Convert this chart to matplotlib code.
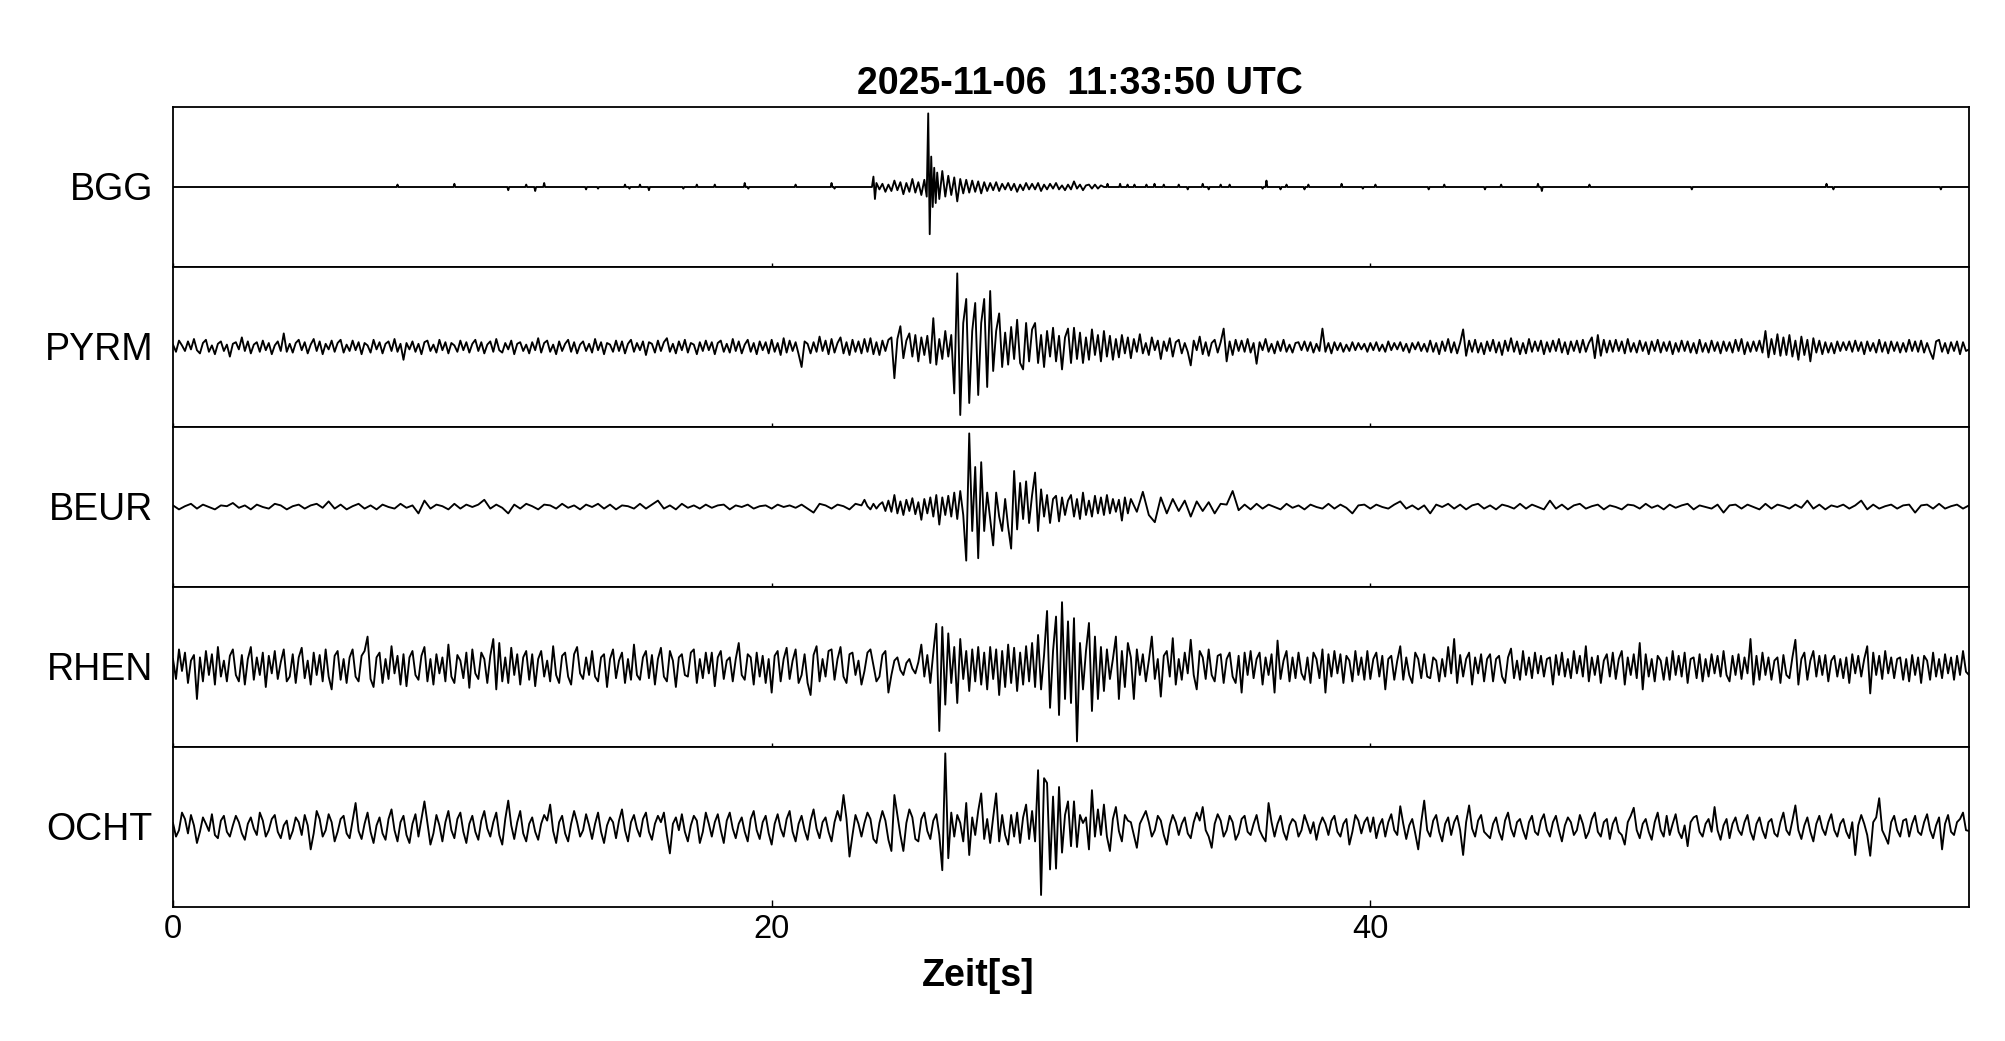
import numpy as np
import matplotlib
matplotlib.use("Agg")
import matplotlib.pyplot as plt

plt.rcParams['font.family'] = ['Liberation Sans', 'DejaVu Sans']

title = "2025-11-06  11:33:50 UTC"
xlabel = "Zeit[s]"
stations = ["BGG", "PYRM", "BEUR", "RHEN", "OCHT"]
xticks = [0, 20, 40]
t_max = 60.0

# ---- BGG: isolated small spikes + event waveform (amplitudes in panel half-heights)
bgg_spike_t = [7.5, 9.4, 11.2, 11.8, 12.1, 12.4, 13.8, 14.2, 15.1, 15.25,
               15.6, 15.9, 17.05, 17.5, 18.1, 19.1, 19.22, 20.8, 22.0, 22.1,
               31.22, 31.64, 31.89, 32.12, 32.52, 32.79, 33.1, 33.6, 33.9, 34.4,
               34.6, 35.0, 35.3, 36.4, 36.53, 37.0, 37.2, 37.8, 37.93, 39.04,
               39.75, 40.17, 41.95, 42.47, 43.83, 44.37, 45.6, 45.73, 47.32, 50.74,
               55.24, 55.47, 59.06]
bgg_spike_v = [0.03, 0.04, -0.04, 0.03, -0.05, 0.05, -0.03, -0.02, 0.03, -0.02,
               0.03, -0.04, -0.02, 0.03, 0.03, 0.05, -0.02, 0.03, 0.05, -0.02,
               0.04, 0.04, 0.03, 0.03, 0.03, 0.04, 0.03, 0.03, -0.03, 0.04,
               -0.03, 0.03, 0.03, -0.02, 0.08, -0.03, 0.03, -0.03, 0.03, 0.04,
               -0.02, 0.03, -0.03, 0.03, -0.03, 0.03, 0.04, -0.05, 0.03, -0.03,
               0.04, -0.03, -0.03]
bgg_ev_t = [23.35, 23.40, 23.45, 23.50, 23.60, 23.70, 23.80, 23.90, 24.00, 24.10,
            24.20, 24.30, 24.40, 24.50, 24.60, 24.70, 24.80, 24.90, 25.00, 25.10,
            25.18, 25.23, 25.28, 25.33, 25.38, 25.43, 25.48, 25.53, 25.60, 25.70,
            25.80, 25.90, 26.00, 26.10, 26.20, 26.30, 26.40, 26.50, 26.60, 26.70,
            26.80, 26.90, 27.00, 27.10, 27.20, 27.30, 27.40, 27.50, 27.60, 27.70,
            27.80, 27.90, 28.00, 28.10, 28.20, 28.30, 28.40, 28.50, 28.60, 28.70,
            28.80, 28.90, 29.00, 29.10, 29.20, 29.30, 29.40, 29.50, 29.60, 29.70,
            29.80, 29.90, 30.00, 30.10, 30.20, 30.30, 30.40, 30.50, 30.60, 30.70,
            30.80, 30.90, 31.00, 31.10]
bgg_ev_v = [0.00, 0.13, -0.15, 0.05, -0.03, 0.04, -0.06, 0.03, -0.05, 0.08,
            -0.04, 0.06, -0.09, 0.05, -0.06, 0.10, -0.07, 0.06, -0.10, 0.09,
            -0.12, 0.92, -0.59, 0.38, -0.25, 0.24, -0.20, 0.18, -0.15, 0.20,
            -0.12, 0.14, -0.10, 0.12, -0.18, 0.10, -0.08, 0.09, -0.07, 0.08,
            -0.06, 0.07, -0.08, 0.06, -0.05, 0.05, -0.04, 0.06, -0.05, 0.04,
            -0.03, 0.05, -0.04, 0.04, -0.06, 0.03, -0.04, 0.05, -0.03, 0.04,
            -0.03, 0.05, -0.05, 0.03, -0.03, 0.04, -0.02, 0.05, -0.03, 0.02,
            -0.04, 0.03, -0.03, 0.07, -0.02, 0.03, -0.04, 0.02, 0.03, -0.02,
            0.03, -0.02, 0.02, 0.00]

# ---- PYRM, RHEN, OCHT: one sample every 0.1 s, 0 .. 60 s (one row = 2 s)
pyrm = [
    0.03, -0.06, 0.08, 0.02, -0.05, 0.07, -0.03, 0.10, -0.04, -0.08, 0.05, 0.09, -0.06, 0.02, -0.09, 0.04, 0.07, -0.05, 0.03, -0.12,
    0.04, 0.06, -0.03, 0.12, -0.05, 0.07, -0.08, 0.03, 0.06, -0.06, 0.08, -0.04, 0.05, -0.09, 0.02, 0.07, -0.05, 0.17, -0.06, 0.04,
    -0.07, 0.05, 0.09, -0.04, 0.06, -0.08, 0.03, 0.10, -0.05, 0.07, -0.09, 0.04, -0.03, 0.08, -0.06, 0.05, 0.09, -0.07, 0.03, -0.05,
    0.08, -0.04, 0.06, -0.09, 0.05, 0.02, -0.07, 0.09, -0.03, 0.06, -0.08, 0.04, 0.07, -0.05, 0.10, -0.06, 0.04, -0.16, 0.05, -0.03,
    0.07, -0.06, 0.04, -0.09, 0.06, 0.08, -0.05, 0.03, -0.07, 0.09, -0.04, 0.06, -0.08, 0.05, 0.02, -0.06, 0.08, -0.04, 0.06, -0.07,
    0.04, 0.09, -0.05, 0.06, -0.08, 0.03, 0.07, -0.06, 0.10, -0.04, -0.07, 0.05, -0.03, 0.08, -0.09, 0.04, 0.06, -0.05, 0.03, -0.08,
    0.06, -0.04, 0.11, -0.07, 0.05, 0.08, -0.06, 0.03, -0.09, 0.07, -0.05, 0.04, 0.09, -0.06, 0.06, -0.08, 0.03, 0.07, -0.05, 0.04,
    -0.07, 0.10, -0.04, 0.06, -0.09, 0.05, 0.03, -0.06, 0.08, -0.05, 0.07, -0.08, 0.04, 0.09, -0.06, 0.05, -0.04, 0.07, -0.10, 0.06,
    0.04, -0.07, 0.08, -0.05, 0.06, 0.11, -0.06, 0.04, -0.08, 0.07, -0.04, 0.09, -0.07, 0.05, 0.03, -0.09, 0.06, -0.05, 0.08, -0.04,
    0.06, -0.09, 0.05, 0.08, -0.06, 0.04, -0.07, 0.10, -0.05, 0.07, -0.08, 0.03, 0.09, -0.06, 0.05, -0.09, 0.07, -0.04, 0.06, -0.08,
    0.09, -0.06, 0.05, -0.10, 0.11, -0.07, 0.08, -0.05, 0.06, -0.09, -0.25, 0.07, 0.04, -0.08, 0.06, -0.06, 0.13, -0.05, 0.08, -0.09,
    0.10, -0.07, 0.05, 0.12, -0.08, 0.06, -0.10, 0.09, -0.06, 0.07, -0.08, 0.10, -0.06, 0.11, -0.09, 0.06, -0.10, 0.08, -0.05, 0.09,
    0.12, -0.39, 0.10, 0.26, -0.14, 0.08, 0.17, -0.12, 0.15, -0.18, 0.12, -0.10, 0.14, -0.20, 0.36, -0.22, 0.10, -0.15, 0.20, -0.12,
    0.15, -0.58, 0.92, -0.85, 0.30, 0.60, -0.70, 0.20, 0.55, -0.60, 0.30, 0.60, -0.50, 0.70, -0.30, 0.20, 0.42, -0.25, 0.18, -0.22,
    0.25, -0.15, 0.34, -0.20, -0.28, 0.30, -0.18, 0.22, 0.30, -0.20, 0.15, -0.25, 0.20, -0.12, 0.24, -0.18, 0.14, -0.28, 0.12, 0.23,
    -0.20, 0.24, -0.15, 0.18, -0.20, 0.12, -0.16, 0.22, -0.10, 0.15, -0.18, 0.20, -0.12, 0.14, -0.16, 0.10, -0.13, 0.15, -0.08, 0.12,
    -0.14, 0.10, -0.06, 0.16, -0.08, 0.05, -0.10, 0.12, -0.04, 0.08, -0.15, 0.07, -0.05, 0.11, -0.12, 0.06, 0.09, -0.08, 0.05, -0.06,
    -0.23, 0.08, -0.04, 0.13, -0.09, 0.06, -0.11, 0.05, 0.09, -0.07, 0.06, 0.23, -0.18, 0.07, -0.10, 0.09, -0.05, 0.08, -0.06, 0.10,
    -0.07, 0.05, -0.21, 0.06, -0.04, 0.10, -0.06, 0.04, -0.08, 0.07, -0.05, 0.09, -0.06, 0.03, -0.07, 0.05, 0.06, -0.04, 0.07, -0.05,
    0.06, -0.07, 0.04, -0.05, 0.23, -0.06, 0.05, -0.08, 0.06, -0.04, 0.05, -0.06, 0.03, -0.05, 0.06, -0.04, 0.05, -0.03, 0.04, -0.06,
    0.05, -0.04, 0.06, -0.05, 0.03, -0.06, 0.07, -0.04, 0.05, -0.03, 0.06, -0.05, 0.04, -0.07, 0.05, -0.03, 0.06, -0.05, 0.04, -0.06,
    0.08, -0.06, 0.05, -0.09, 0.07, -0.05, 0.10, -0.07, 0.06, -0.08, 0.05, 0.22, -0.11, 0.08, -0.06, 0.09, -0.07, 0.05, -0.09, 0.07,
    -0.05, 0.09, -0.07, 0.06, -0.10, 0.08, -0.05, 0.11, -0.06, 0.07, -0.09, 0.05, -0.08, 0.10, -0.06, 0.07, -0.05, 0.08, -0.09, 0.06,
    -0.06, 0.08, -0.05, 0.10, -0.07, 0.06, -0.09, 0.07, -0.05, 0.08, -0.07, 0.09, -0.06, 0.05, 0.12, -0.14, 0.15, -0.11, 0.09, -0.07,
    0.08, -0.06, 0.09, -0.05, 0.07, -0.08, 0.10, -0.06, 0.05, -0.07, 0.08, -0.05, 0.06, -0.09, 0.07, -0.05, 0.09, -0.07, 0.06, -0.05,
    0.07, -0.09, 0.05, -0.06, 0.08, -0.05, 0.07, -0.07, 0.05, -0.08, 0.09, -0.06, 0.05, -0.07, 0.08, -0.05, 0.06, -0.08, 0.07, -0.05,
    0.06, -0.07, 0.09, -0.05, 0.10, -0.09, 0.06, -0.06, 0.07, -0.05, 0.08, -0.07, 0.20, -0.13, 0.10, -0.09, 0.16, -0.11, 0.12, -0.10,
    0.15, -0.12, 0.08, -0.16, 0.13, -0.10, 0.09, -0.18, 0.11, -0.07, 0.08, -0.09, 0.06, -0.07, 0.05, -0.08, 0.07, -0.05, 0.06, -0.04,
    0.07, -0.06, 0.08, -0.05, 0.06, -0.09, 0.07, -0.05, 0.05, -0.07, 0.09, -0.06, 0.06, -0.08, 0.07, -0.05, 0.06, -0.07, 0.05, -0.06,
    0.09, -0.05, 0.07, -0.06, 0.08, -0.07, 0.05, -0.06, -0.15, 0.07, 0.09, -0.06, 0.05, -0.08, 0.06, -0.05, 0.07, -0.09, 0.06, -0.05,
    -0.03]

rhen = [
    0.10, -0.15, 0.22, -0.05, 0.18, -0.20, 0.08, 0.15, -0.40, 0.12, -0.18, 0.20, -0.10, 0.16, -0.22, 0.25, -0.12, 0.08, -0.18, 0.14,
    0.22, -0.10, -0.18, 0.15, -0.22, 0.10, 0.25, -0.16, 0.12, -0.10, 0.18, -0.25, 0.14, -0.08, 0.20, -0.15, 0.06, 0.22, -0.18, -0.12,
    0.16, -0.20, 0.12, 0.24, -0.14, 0.08, -0.22, 0.18, -0.10, 0.15, -0.18, 0.22, -0.12, -0.28, 0.14, 0.20, -0.16, 0.10, -0.20, 0.12,
    0.22, -0.12, -0.18, 0.14, 0.20, 0.38, -0.15, -0.25, 0.12, 0.18, -0.20, 0.10, -0.15, 0.26, -0.08, 0.14, -0.22, 0.16, -0.24, 0.12,
    0.20, -0.10, -0.16, 0.14, 0.25, -0.18, 0.10, -0.22, 0.16, -0.08, 0.12, -0.18, 0.28, -0.12, -0.20, 0.15, 0.08, -0.14, 0.18, -0.26,
    0.22, -0.08, -0.15, 0.18, 0.10, -0.20, 0.14, 0.35, -0.28, 0.30, -0.18, 0.12, -0.20, 0.24, -0.10, 0.16, -0.22, 0.12, 0.20, -0.16,
    0.16, -0.24, 0.10, 0.20, -0.12, 0.08, -0.18, 0.26, -0.10, -0.20, 0.14, 0.18, -0.12, -0.22, 0.16, 0.25, -0.08, -0.15, 0.12, -0.10,
    0.20, -0.12, -0.18, 0.12, 0.16, -0.25, 0.10, 0.22, -0.14, 0.08, 0.18, -0.20, 0.10, -0.16, 0.28, -0.10, -0.16, 0.12, 0.20, -0.14,
    0.15, -0.22, 0.10, 0.24, -0.12, -0.18, 0.20, 0.08, -0.25, 0.12, 0.16, -0.10, -0.12, 0.18, 0.22, -0.20, 0.10, -0.14, 0.18, -0.08,
    0.18, -0.24, 0.12, 0.20, -0.15, 0.08, 0.12, -0.18, 0.10, 0.30, -0.10, -0.16, 0.16, 0.12, -0.22, 0.18, -0.12, 0.14, -0.20, 0.10,
    -0.32, 0.14, 0.20, -0.18, 0.10, 0.24, -0.15, 0.08, 0.22, -0.20, -0.10, 0.16, -0.20, -0.35, 0.15, 0.26, -0.18, 0.10, -0.12, 0.20,
    0.22, -0.16, 0.10, 0.25, -0.12, -0.20, 0.16, 0.18, -0.10, 0.08, -0.22, -0.05, 0.18, 0.22, 0.02, -0.18, -0.12, 0.15, 0.20, -0.32,
    -0.10, 0.08, 0.12, -0.04, -0.10, 0.05, 0.10, -0.02, -0.08, 0.06, 0.28, -0.12, 0.15, -0.20, 0.18, 0.54, -0.80, 0.50, -0.47, 0.42,
    -0.20, 0.25, -0.45, 0.35, -0.15, 0.20, -0.30, 0.22, -0.18, 0.25, -0.22, 0.18, -0.28, 0.25, -0.15, 0.22, -0.35, 0.20, -0.25, 0.28,
    -0.20, 0.24, -0.30, 0.18, -0.22, 0.26, -0.18, 0.30, -0.25, 0.40, -0.28, 0.15, 0.70, -0.51, 0.20, 0.63, -0.60, 0.81, -0.40, 0.57,
    -0.45, 0.61, -0.93, 0.30, -0.28, 0.20, 0.55, -0.55, 0.38, -0.40, 0.25, -0.30, 0.22, -0.15, 0.10, 0.38, -0.40, 0.20, -0.25, 0.30,
    0.12, -0.40, 0.22, -0.10, 0.16, -0.18, 0.08, 0.38, -0.15, 0.10, -0.37, 0.14, 0.20, -0.12, 0.36, -0.22, 0.10, -0.16, 0.18, -0.08,
    0.34, -0.10, -0.28, 0.20, 0.12, -0.15, 0.22, -0.10, -0.18, 0.14, 0.16, -0.20, 0.10, 0.18, -0.12, -0.20, 0.14, -0.32, 0.18, -0.10,
    0.20, -0.14, 0.10, 0.18, -0.22, 0.12, -0.10, 0.16, -0.32, 0.33, -0.15, 0.08, 0.20, -0.18, 0.12, -0.14, 0.18, -0.08, -0.16, 0.12,
    -0.20, 0.18, 0.10, -0.14, 0.22, -0.32, 0.16, -0.12, 0.20, -0.08, 0.16, -0.20, 0.14, 0.08, -0.18, 0.20, -0.10, 0.12, -0.16, 0.20,
    -0.15, 0.10, 0.18, -0.12, 0.14, -0.28, 0.10, 0.14, -0.16, 0.08, 0.26, -0.16, 0.12, -0.10, -0.20, 0.18, 0.10, -0.14, 0.16, -0.12,
    -0.14, 0.12, 0.08, -0.18, 0.10, -0.12, 0.25, -0.08, 0.35, -0.20, 0.15, -0.12, 0.10, 0.18, -0.22, 0.12, -0.08, 0.16, -0.18, 0.10,
    0.16, -0.18, 0.10, 0.14, -0.12, -0.20, 0.12, 0.23, -0.14, 0.08, -0.16, 0.20, -0.10, 0.12, -0.14, 0.18, -0.08, 0.14, -0.12, 0.10,
    0.12, -0.22, 0.15, -0.10, 0.18, -0.12, 0.10, -0.14, 0.20, -0.08, 0.14, -0.12, 0.26, -0.18, 0.12, -0.10, 0.14, -0.20, 0.08, 0.16,
    -0.12, 0.18, -0.15, 0.10, 0.20, -0.22, 0.12, -0.10, 0.16, -0.14, 0.30, -0.28, 0.16, -0.12, 0.10, -0.18, 0.14, 0.08, -0.16, 0.12,
    -0.16, 0.20, -0.10, 0.14, -0.12, 0.18, -0.20, 0.10, 0.12, -0.14, 0.16, -0.18, 0.10, -0.12, 0.16, -0.08, 0.14, -0.12, 0.20, -0.10,
    -0.18, 0.14, -0.10, 0.16, -0.15, 0.12, -0.08, 0.35, -0.22, 0.14, -0.16, 0.18, -0.10, 0.12, -0.16, 0.08, 0.12, -0.20, 0.15, -0.10,
    -0.14, 0.12, 0.34, -0.22, 0.10, 0.18, -0.16, 0.08, 0.20, -0.12, 0.14, -0.10, 0.15, -0.18, 0.08, 0.14, -0.12, 0.10, -0.14, 0.12,
    -0.20, 0.16, -0.08, 0.14, -0.12, 0.10, 0.26, -0.33, 0.18, -0.10, 0.14, -0.15, 0.20, -0.08, 0.12, -0.14, 0.10, 0.12, -0.16, 0.10,
    -0.18, 0.15, -0.10, 0.12, -0.20, 0.14, 0.08, -0.16, 0.18, -0.12, 0.10, -0.14, 0.16, -0.08, 0.12, -0.16, 0.14, -0.10, 0.20, -0.06,
    -0.10]

ocht = [
    0.05, -0.12, -0.04, 0.18, 0.10, -0.08, 0.15, 0.02, -0.20, -0.06, 0.12, 0.04, -0.05, 0.16, -0.10, -0.14, 0.08, 0.14, -0.06, -0.12,
    0.02, 0.14, 0.06, -0.08, -0.16, 0.04, 0.12, -0.02, -0.10, 0.18, 0.08, -0.12, -0.04, 0.10, 0.15, -0.06, -0.14, 0.02, 0.08, -0.15,
    -0.05, 0.12, 0.06, -0.10, 0.15, 0.02, -0.28, -0.08, 0.20, 0.10, -0.12, -0.04, 0.16, 0.06, -0.18, -0.06, 0.10, 0.14, -0.08, -0.14,
    0.08, 0.30, -0.05, -0.15, 0.04, 0.18, -0.06, -0.20, 0.02, 0.12, -0.08, -0.16, 0.10, 0.22, -0.04, -0.18, 0.06, 0.14, -0.10, -0.20,
    0.04, 0.16, -0.12, 0.10, 0.32, 0.05, -0.22, -0.08, 0.15, 0.02, -0.18, 0.06, 0.20, -0.04, -0.14, 0.10, 0.18, -0.06, -0.20, 0.04,
    0.14, -0.06, -0.16, 0.08, 0.20, -0.02, -0.12, 0.06, 0.18, -0.10, -0.22, 0.10, 0.33, 0.02, -0.15, 0.06, 0.20, -0.08, -0.18, 0.04,
    0.12, -0.06, -0.16, 0.04, 0.15, 0.08, 0.28, -0.05, -0.20, 0.06, 0.14, -0.08, -0.18, 0.04, 0.20, 0.06, -0.12, -0.04, 0.16, 0.02,
    -0.15, 0.04, 0.18, -0.06, -0.20, 0.02, 0.12, 0.06, -0.14, 0.08, 0.22, -0.04, -0.18, 0.06, 0.15, -0.02, -0.12, 0.10, 0.18, -0.06,
    -0.16, 0.04, 0.14, 0.06, 0.18, -0.10, -0.33, 0.04, 0.12, -0.04, 0.16, -0.06, -0.18, 0.02, 0.14, 0.08, -0.20, -0.06, 0.18, 0.04,
    -0.12, 0.06, 0.16, -0.04, -0.20, 0.08, 0.18, -0.02, -0.14, 0.04, 0.12, -0.06, -0.18, 0.10, 0.20, -0.04, -0.15, 0.06, 0.14, -0.08,
    -0.22, 0.04, 0.16, -0.02, -0.12, 0.10, 0.20, -0.06, -0.18, 0.04, 0.14, -0.04, -0.16, 0.08, 0.22, -0.02, -0.14, 0.06, 0.12, -0.06,
    -0.18, 0.06, 0.20, 0.08, 0.40, 0.10, -0.37, -0.10, 0.15, 0.04, -0.12, 0.05, 0.18, 0.10, -0.15, -0.20, 0.05, 0.20, 0.08, -0.16,
    -0.30, 0.40, 0.15, -0.10, -0.30, 0.05, 0.22, 0.12, -0.15, -0.18, 0.10, 0.18, -0.05, -0.15, 0.08, 0.16, -0.10, -0.54, 0.92, -0.39,
    0.18, -0.12, 0.15, 0.05, -0.18, 0.30, -0.35, 0.12, -0.10, 0.20, 0.42, -0.15, 0.10, -0.20, 0.12, 0.42, -0.18, 0.15, -0.10, -0.22,
    0.15, -0.12, 0.18, -0.20, 0.12, 0.28, -0.15, 0.20, -0.18, 0.71, -0.85, 0.61, 0.55, -0.53, 0.38, -0.52, 0.50, -0.32, 0.15, 0.32,
    -0.24, 0.32, -0.25, 0.15, 0.05, 0.12, -0.28, 0.46, -0.12, 0.22, -0.10, 0.28, -0.12, -0.30, 0.10, 0.25, -0.05, -0.18, 0.15, 0.08,
    0.06, -0.10, -0.26, 0.04, 0.12, 0.20, 0.06, -0.12, -0.04, 0.14, 0.08, -0.10, -0.22, 0.02, 0.15, 0.06, -0.10, 0.04, 0.12, -0.08,
    -0.14, 0.06, 0.18, 0.08, 0.25, -0.04, -0.12, -0.26, 0.04, 0.16, 0.08, -0.12, -0.04, 0.14, 0.06, -0.16, -0.08, 0.10, 0.14, -0.06,
    -0.10, 0.04, 0.15, -0.04, -0.12, -0.18, 0.30, 0.06, -0.12, 0.04, 0.14, -0.06, -0.16, 0.02, 0.10, 0.06, -0.12, -0.04, 0.15, 0.04,
    -0.08, 0.06, -0.16, 0.02, 0.12, 0.04, -0.10, 0.08, 0.14, -0.06, -0.12, 0.04, 0.10, -0.22, -0.06, 0.15, 0.08, -0.08, 0.06, 0.12,
    -0.06, 0.12, -0.14, 0.02, 0.10, -0.12, 0.06, 0.16, -0.04, -0.10, 0.26, 0.04, -0.15, 0.02, 0.10, -0.08, -0.28, 0.06, 0.33, -0.04,
    -0.12, 0.08, 0.15, -0.06, -0.18, 0.04, 0.12, -0.10, 0.06, 0.14, -0.04, -0.35, 0.06, 0.27, -0.02, -0.12, 0.08, 0.15, -0.06, -0.10,
    -0.14, 0.04, 0.12, -0.06, -0.16, 0.08, 0.18, -0.02, -0.12, 0.06, 0.10, -0.04, -0.15, 0.06, 0.14, -0.06, -0.10, 0.08, 0.16, -0.04,
    -0.12, 0.06, 0.14, -0.04, -0.18, 0.02, 0.12, 0.06, -0.10, -0.04, 0.15, 0.04, -0.14, -0.06, 0.10, 0.18, -0.06, -0.12, 0.06, 0.10,
    -0.15, 0.04, 0.12, -0.06, -0.10, -0.22, 0.06, 0.14, 0.24, -0.04, -0.14, 0.04, 0.10, -0.06, -0.16, 0.06, 0.18, -0.04, -0.12, 0.14,
    -0.10, 0.04, 0.16, -0.06, -0.14, 0.02, -0.24, 0.06, 0.12, 0.14, -0.06, -0.12, 0.04, 0.10, -0.06, 0.25, -0.04, -0.16, 0.02, 0.10,
    -0.14, 0.04, 0.12, -0.04, -0.10, 0.06, 0.15, -0.06, -0.16, 0.04, 0.12, -0.04, -0.14, 0.06, 0.10, -0.08, -0.12, 0.06, 0.18, -0.04,
    -0.10, 0.08, 0.27, -0.04, -0.15, 0.02, 0.12, -0.06, -0.18, 0.04, 0.14, -0.02, -0.10, 0.06, 0.16, -0.04, -0.12, 0.04, 0.10, -0.06,
    -0.14, 0.06, -0.35, 0.02, 0.15, 0.04, -0.10, -0.36, 0.06, 0.12, 0.36, -0.04, -0.12, -0.21, 0.06, 0.14, -0.04, -0.12, 0.08, 0.10,
    -0.12, 0.04, 0.14, -0.06, -0.10, 0.06, 0.16, -0.04, -0.14, 0.02, 0.12, -0.28, 0.04, 0.15, -0.06, -0.10, 0.06, 0.10, 0.18, -0.04,
    -0.05]

# ---- BEUR (smooth noise): every 0.2 s (0-22.8 s), 0.1 s (23.0-31.9 s), 0.2 s (32-60 s)
beur_a = [0.02, -0.03, 0.01, 0.04, -0.02, 0.03, 0.00, -0.03, 0.02, 0.01,
          0.05, -0.01, 0.02, -0.03, 0.03, 0.00, -0.02, 0.04, 0.02, -0.03,
          0.01, 0.03, -0.02, 0.02, 0.04, -0.01, 0.07, -0.02, 0.03, -0.03,
          0.01, 0.04, -0.02, 0.02, -0.03, 0.03, 0.00, -0.02, 0.04, -0.01,
          0.02, -0.08, 0.08, -0.02, 0.03, 0.01, -0.03, 0.04, -0.02, 0.03,
          0.00, 0.03, 0.09, -0.02, 0.03, -0.01, -0.08, 0.03, -0.02, 0.04,
          0.01, -0.03, 0.03, 0.02, -0.02, 0.04, -0.01, 0.02, -0.03, 0.03,
          0.00, 0.04, -0.02, 0.03, -0.03, 0.02, 0.01, -0.02, 0.04, -0.02,
          0.03, 0.08, -0.02, 0.02, -0.03, 0.04, -0.01, 0.02, -0.02, 0.03,
          -0.01, 0.02, 0.03, -0.03, 0.02, 0.00, 0.03, -0.02, 0.01, 0.02,
          -0.02, 0.03, 0.00, 0.02, -0.01, 0.03, -0.02, -0.07, 0.04, 0.02,
          -0.02, 0.03, 0.01, -0.03, 0.04]
beur_b = [0.02, 0.09, 0.01, -0.03, 0.04, -0.02, 0.03, 0.06, -0.05, 0.08,
          -0.06, 0.15, -0.08, 0.07, -0.10, 0.09, -0.05, 0.11, -0.09, 0.06,
          -0.16, 0.10, -0.08, 0.12, -0.12, 0.15, -0.22, 0.12, -0.10, 0.14,
          -0.12, 0.18, -0.15, 0.20, -0.10, -0.67, 0.92, -0.30, 0.50, -0.64,
          0.56, -0.30, 0.18, -0.15, -0.48, 0.18, -0.12, -0.30, 0.10, -0.25,
          -0.52, 0.45, -0.28, 0.30, -0.15, 0.32, -0.20, 0.15, 0.43, -0.30,
          0.22, -0.12, 0.15, -0.20, 0.10, 0.14, -0.18, 0.12, -0.10, 0.08,
          0.15, -0.12, 0.10, -0.15, 0.18, -0.10, 0.08, -0.12, 0.14, -0.08,
          0.12, -0.10, 0.15, -0.08, 0.10, -0.06, 0.09, -0.17, 0.12, -0.08]
beur_c = [0.10, -0.06, 0.19, -0.10, -0.19, 0.12, -0.08, 0.10, -0.05, 0.08,
          -0.12, 0.07, -0.05, 0.06, -0.08, 0.04, 0.03, 0.20, -0.04, 0.03,
          -0.03, 0.04, -0.02, 0.03, 0.00, -0.03, 0.04, -0.01, 0.02, -0.03,
          0.03, 0.00, -0.02, 0.04, -0.02, 0.03, -0.01, -0.08, 0.02, 0.03,
          -0.02, 0.03, 0.00, -0.02, 0.03, 0.07, -0.02, 0.02, -0.03, 0.02,
          -0.08, 0.03, 0.00, 0.04, -0.02, 0.03, -0.03, 0.02, 0.04, -0.02,
          0.02, -0.03, 0.03, 0.01, -0.02, 0.04, -0.02, 0.03, 0.00, -0.03,
          0.08, -0.02, 0.03, -0.03, 0.02, 0.04, -0.02, 0.01, 0.03, -0.03,
          0.02, 0.00, -0.03, 0.03, 0.02, -0.02, 0.04, -0.01, 0.02, -0.03,
          0.03, -0.01, 0.02, 0.04, -0.03, 0.02, 0.00, -0.02, 0.03, -0.07,
          0.02, 0.03, -0.02, 0.03, 0.00, -0.03, 0.04, -0.02, 0.03, 0.01,
          -0.02, 0.03, -0.01, 0.08, -0.02, 0.03, -0.03, 0.02, 0.00, 0.03,
          -0.02, 0.02, 0.08, -0.03, 0.03, -0.02, 0.01, 0.03, -0.02, 0.02,
          0.03, -0.07, 0.02, 0.03, -0.02, 0.04, -0.02, 0.01, 0.03, -0.02,
          0.02]


def uniform(v):
    v = np.asarray(v, dtype=float)
    return np.arange(len(v)) * 0.1, v


def three_part(a, b, c):
    ta = np.arange(len(a)) * 0.2
    tb = 23.0 + np.arange(len(b)) * 0.1
    tc = 32.0 + np.arange(len(c)) * 0.2
    return np.concatenate([ta, tb, tc]), np.concatenate([a, b, c])


def bgg_trace():
    pts = [(0.0, 0.0), (t_max, 0.0)]
    for t, v in zip(bgg_spike_t, bgg_spike_v):
        pts += [(t - 0.03, 0.0), (t, v), (t + 0.03, 0.0)]
    pts += list(zip(bgg_ev_t, bgg_ev_v))
    pts.sort(key=lambda p: p[0])
    arr = np.array(pts)
    return arr[:, 0], arr[:, 1]


traces = {
    "BGG": bgg_trace(),
    "PYRM": uniform(pyrm),
    "BEUR": three_part(beur_a, beur_b, beur_c),
    "RHEN": uniform(rhen),
    "OCHT": uniform(ocht),
}

W, H = 2005, 1041
fig = plt.figure(figsize=(W / 100, H / 100), dpi=100)
left_px, width_px, top_px, panel_px = 173, 1796, 107, 160

for i, name in enumerate(stations):
    y0 = 1 - (top_px + panel_px * (i + 1)) / H
    ax = fig.add_axes([left_px / W, y0, width_px / W, panel_px / H])
    t, v = traces[name]
    ax.plot(t, v, color='black', lw=1.35)
    ax.set_xlim(0, t_max)
    ax.set_ylim(-1, 1)
    ax.set_yticks([])
    ax.set_xticks(xticks)
    for s in ax.spines.values():
        s.set_linewidth(1.3)
    last = (i == len(stations) - 1)
    ax.tick_params(axis='x', direction='in', length=5 if last else 3, width=1.0,
                   labelbottom=last, labelsize=23.5, pad=5)
    fig.text(153 / W, 1 - (top_px + panel_px * i + 80 + 13) / H, name,
             ha='right', va='baseline', fontsize=27)

fig.text(1080 / W, 1 - 94 / H, title, ha='center', va='baseline',
         fontsize=27, fontweight='bold')
fig.text(978 / W, 1 - 986 / H, xlabel, ha='center', va='baseline',
         fontsize=27, fontweight='bold')

fig.savefig('out.png', dpi=100, facecolor='white')
